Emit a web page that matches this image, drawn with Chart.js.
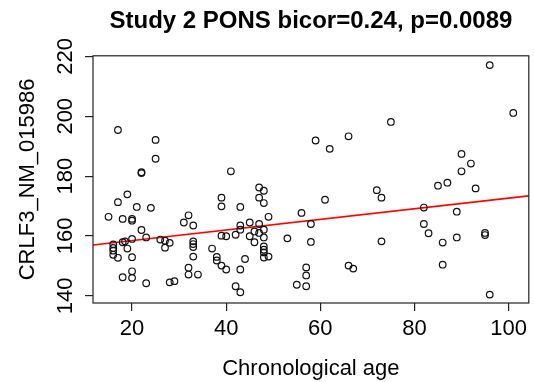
<!DOCTYPE html>
<html>
<head>
<meta charset="utf-8">
<script src="https://cdn.jsdelivr.net/npm/chart.js@4.4.0/dist/chart.umd.min.js"></script>
<style>
  html, body { margin: 0; padding: 0; background: #fff; }
</style>
</head>
<body>
<canvas id="scatter-chart" width="534" height="382"></canvas>
<script>
// values
var ages = [17, 25, 25, 22, 22, 41, 59, 62, 66, 96, 101, 75, 90, 92, 90, 85, 87, 93, 72, 73,
            82, 89, 82, 83, 73, 86, 89, 95, 95, 86, 96,
            19, 17, 21, 24, 15, 18, 20, 20, 22, 23, 20, 18.5, 18, 19, 16, 16, 16, 16, 17,
            20, 20, 20, 18, 23, 26, 27, 28, 27, 28, 29, 32, 31, 33, 33, 33, 33, 33, 32, 32,
            34, 37, 38, 38, 39, 40, 39, 39, 39, 40, 42, 43, 42, 43, 43,
            47, 48, 47, 48, 43, 49, 45, 47, 43, 46, 47, 48, 45, 48, 46, 48, 48, 48, 48, 49,
            44, 53, 56, 58, 58, 61, 57, 57, 55, 57, 66, 67];
var crlf3 = [195.4, 192.1, 185.8, 181.0, 181.3, 181.6, 191.9, 189.1, 193.3, 217.1, 201.1, 198.1, 187.4, 184.2, 181.6, 176.8, 177.8, 175.9, 175.3, 172.8,
             169.5, 168.1, 164.0, 160.9, 158.2, 157.8, 159.5, 161.0, 160.3, 150.4, 140.4,
             173.9, 171.3, 169.7, 169.4, 166.4, 165.7, 165.7, 165.1, 162.0, 159.5, 159.0, 158.2, 157.9, 155.8, 157.2, 156.0, 155.1, 153.7, 152.7,
             152.9, 148.2, 146.0, 146.2, 144.2, 158.8, 158.4, 157.7, 156.1, 144.5, 144.9, 166.9, 164.5, 163.5, 158.2, 157.3, 156.3, 153.1, 149.4, 147.1,
             147.1, 155.8, 153.0, 151.8, 150.1, 148.8, 172.8, 169.9, 160.1, 159.9, 160.4, 163.5, 143.2, 141.2, 148.8,
             176.2, 175.1, 172.8, 171.0, 169.7, 166.4, 164.5, 164.0, 162.1, 161.5, 161.0, 162.1, 159.9, 159.5, 157.9, 156.5, 155.4, 154.5, 152.8, 153.1,
             152.3, 159.2, 167.7, 164.0, 158.0, 172.1, 149.5, 146.8, 143.7, 143.2, 150.1, 149.1];
var x_ticks = [20, 40, 60, 80, 100];
var y_ticks = [140, 160, 180, 200, 220];
var x_range = [11.7, 104.3];
var y_range = [137.6, 220.2];
var fit_intercept = 154.93;
var fit_slope = 0.177;

var points = ages.map(function (a, i) { return {x: a, y: crlf3[i]}; });
var fit_line = x_range.map(function (x) { return {x: x, y: fit_intercept + fit_slope * x}; });

var font_family = "'Liberation Sans', Arial, Helvetica, sans-serif";

// R draws a full box round the plot region
var boxPlugin = {
    id: 'plotBox',
    afterDatasetsDraw: function (chart) {
        var a = chart.chartArea, ctx = chart.ctx;
        ctx.save();
        ctx.strokeStyle = '#222';
        ctx.lineWidth = 1.2;
        ctx.strokeRect(a.left, a.top, a.right - a.left, a.bottom - a.top);
        ctx.restore();
    }
};

var scatterChart = new Chart(document.getElementById("scatter-chart"), {
    type: 'scatter',
    data: {
        datasets: [
            {
                label: "CRLF3",
                data: points,
                pointRadius: 3.3,
                pointBorderWidth: 1.2,
                borderColor: "#111",
                backgroundColor: "rgba(0,0,0,0)",
                pointStyle: 'circle'
            }, {
                label: "fit",
                type: 'line',
                data: fit_line,
                borderColor: "#ff0000",
                borderWidth: 1.6,
                pointRadius: 0,
                fill: false
            }
        ]
    },
    options: {
        responsive: false,
        animation: false,
        layout: { padding: { left: 0, right: 1, top: 0, bottom: 0 } },
        plugins: {
            legend: { display: false },
            tooltip: { enabled: false },
            title: {
                display: true,
                text: 'Study 2 PONS bicor=0.24, p=0.0089',
                color: '#000',
                fullSize: false,
                font: { family: font_family, size: 24, weight: 'bold' },
                padding: { top: 7, bottom: 20 }
            }
        },
        scales: {
            x: {
                type: 'linear',
                min: x_range[0],
                max: x_range[1],
                afterBuildTicks: function (s) { s.ticks = x_ticks.map(function (v) { return {value: v}; }); },
                afterFit: function (s) { s.height = 79; },
                border: { display: false },
                grid: { drawOnChartArea: false, drawTicks: true, tickLength: 8, color: '#222', lineWidth: 1.2 },
                ticks: { color: '#000', font: { family: font_family, size: 22 }, padding: 5, maxRotation: 0, autoSkip: false },
                title: { display: true, text: 'Chronological age', color: '#000', font: { family: font_family, size: 22 }, padding: { top: 6, bottom: 0 } }
            },
            y: {
                type: 'linear',
                min: y_range[0],
                max: y_range[1],
                afterBuildTicks: function (s) { s.ticks = y_ticks.map(function (v) { return {value: v}; }); },
                afterFit: function (s) { s.width = 93; },
                border: { display: false },
                grid: { drawOnChartArea: false, drawTicks: true, tickLength: 8, color: '#222', lineWidth: 1.2 },
                ticks: { color: '#000', font: { family: font_family, size: 22 }, padding: 1, minRotation: 90, maxRotation: 90, crossAlign: 'center', autoSkip: false },
                title: { display: true, text: 'CRLF3_NM_015986', color: '#000', font: { family: font_family, size: 22 }, padding: { top: 15, bottom: 0 } }
            }
        }
    },
    plugins: [boxPlugin]
});
</script>
</body>
</html>
